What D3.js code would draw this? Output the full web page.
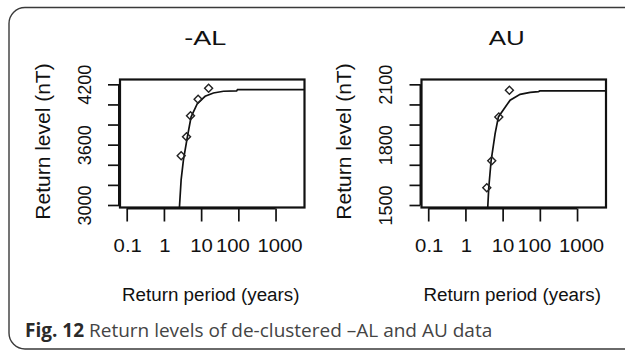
<!DOCTYPE html>
<html>
<head>
<meta charset="utf-8">
<script src="https://cdn.jsdelivr.net/npm/d3@7"></script>
<style>
  html, body { margin: 0; padding: 0; background: #fff; }
  svg { display: block; }
</style>
</head>
<body>
<svg id="chart" width="625" height="352"></svg>
<script>
// ---------- data ----------
const panelTitles = ["-AL", "AU"];
const periodTicks = [0.1, 1, 10, 100, 1000];
const periodTickLabels = ["0.1", "1", "10", "100", "1000"];

const alLevelTicks = [3000, 3200, 3400, 3600, 3800, 4000, 4200];
const alLevelTickLabels = ["3000", "3600", "4200"];
const auLevelTicks = [1500, 1600, 1700, 1800, 1900, 2000, 2100];
const auLevelTickLabels = ["1500", "1800", "2100"];

// fitted return-level curve
const alCurvePeriod = [2.61, 2.9, 3.34, 4.28, 5.38, 7.94, 12.8, 21.4, 39.8, 90, 95, 6000];
const alCurveLevel  = [2975, 3249, 3447, 3679, 3877, 4010, 4081, 4114, 4131, 4134, 4148, 4148];
const auCurvePeriod = [3.98, 4.24, 4.9, 6.28, 7.7, 10.5, 15.9, 29.5, 55, 92, 100, 6000];
const auCurveLevel  = [1488, 1586, 1720, 1855, 1938, 1974, 2021, 2050, 2060, 2064, 2067, 2067];

// empirical return levels
const alObsPeriod = [2.91, 4.05, 5.18, 8.3, 15.9];
const alObsLevel  = [3490, 3679, 3888, 4051, 4160];
const auObsPeriod = [3.75, 5.1, 7.9, 15.2];
const auObsLevel  = [1586, 1720, 1938, 2070];

const xLabel = "Return period (years)";
const yLabel = "Return level (nT)";
const captionBold = "Fig. 12";
const captionText = " Return levels of de-clustered \u2013AL and AU data";

// ---------- drawing ----------
const svg = d3.select("#chart");
const FONT = "'Liberation Sans', Arial, Helvetica, sans-serif";
const xLabelShift = [0.5, 0.5, 0, -6, 4];   // layout nudges of tick labels

// rounded figure frame
svg.append("rect")
  .attr("x", 9).attr("y", 7.5).attr("width", 720).attr("height", 341.5)
  .attr("rx", 16).attr("ry", 16)
  .attr("fill", "none").attr("stroke", "#3a3a3a").attr("stroke-width", 1.4);

const panels = [
  { title: panelTitles[0], left: 120, yTicks: alLevelTicks, yLabels: alLevelTickLabels,
    yDomain: [2975, 4248], cP: alCurvePeriod, cL: alCurveLevel, oP: alObsPeriod, oL: alObsLevel,
    titleW: 42 },
  { title: panelTitles[1], left: 421.5, yTicks: auLevelTicks, yLabels: auLevelTickLabels,
    yDomain: [1487.6, 2124], cP: auCurvePeriod, cL: auCurveLevel, oP: auObsPeriod, oL: auObsLevel,
    titleW: 36 }
];

const PW = 184.5, PTOP = 79.5, PBOT = 207.5;

panels.forEach((p, i) => {
  const g = svg.append("g");
  const x = d3.scaleLog().domain([0.066, 6000]).range([p.left, p.left + PW]);
  const y = d3.scaleLinear().domain(p.yDomain).range([PBOT, PTOP]);

  const clipId = "clip" + i;
  g.append("clipPath").attr("id", clipId)
    .append("rect").attr("x", p.left).attr("y", PTOP).attr("width", PW).attr("height", PBOT - PTOP);

  // curve
  const curve = p.cP.map((d, k) => [d, p.cL[k]]);
  g.append("path")
    .attr("clip-path", `url(#${clipId})`)
    .attr("d", d3.line().x(d => x(d[0])).y(d => y(d[1]))(curve))
    .attr("fill", "none").attr("stroke", "#111").attr("stroke-width", 1.7);

  // observed points (diamonds)
  const obs = p.oP.map((d, k) => [d, p.oL[k]]);
  g.selectAll("path.pt").data(obs).enter().append("path")
    .attr("class", "pt")
    .attr("d", d3.symbol().type(d3.symbolSquare).size(32))
    .attr("transform", d => `translate(${x(d[0])},${y(d[1])}) rotate(45)`)
    .attr("fill", "none").attr("stroke", "#222").attr("stroke-width", 1.4);

  // frame
  g.append("rect").attr("x", p.left).attr("y", PTOP).attr("width", PW).attr("height", PBOT - PTOP)
    .attr("fill", "none").attr("stroke", "#111").attr("stroke-width", 2.2);

  // x axis
  const xa = g.append("g").attr("transform", `translate(0,${PBOT + 1})`)
    .call(d3.axisBottom(x).tickValues(periodTicks).tickSize(13).tickSizeOuter(0)
      .tickFormat((d, k) => periodTickLabels[k]));
  xa.select(".domain").attr("stroke", "#111").attr("stroke-width", 2)
    .attr("d", `M${x(periodTicks[0])},0H${x(periodTicks[periodTicks.length - 1])}`);
  xa.selectAll(".tick line").attr("stroke", "#111").attr("stroke-width", 1.7);
  xa.selectAll(".tick text").attr("font-family", FONT).attr("font-size", 19)
    .attr("fill", "#111").attr("dy", 0).attr("y", 0)
    .attr("transform", (d, k) => `translate(${xLabelShift[k]},43) scale(1.07,1)`);

  // y axis
  const ya = g.append("g").attr("transform", `translate(${p.left - 1},0)`)
    .call(d3.axisLeft(y).tickValues(p.yTicks).tickSize(11).tickSizeOuter(0)
      .tickFormat(d => p.yLabels.includes(String(d)) ? String(d) : ""));
  ya.select(".domain").attr("stroke", "#111").attr("stroke-width", 2)
    .attr("d", `M0,${y(p.yTicks[0])}V${y(p.yTicks[p.yTicks.length - 1])}`);
  ya.selectAll(".tick line").attr("stroke", "#111").attr("stroke-width", 1.7);
  ya.selectAll(".tick text")
    .attr("font-family", FONT).attr("font-size", 18).attr("fill", "#111")
    .attr("x", 0).attr("dy", 0)
    .attr("text-anchor", "middle")
    .attr("transform", "translate(-28.5,0) rotate(-90)");

  // title
  g.append("text")
    .attr("x", p.left + PW / 2 - 7).attr("y", 45)
    .attr("text-anchor", "middle")
    .attr("font-family", FONT).attr("font-size", 21).attr("fill", "#111")
    .attr("textLength", p.titleW).attr("lengthAdjust", "spacingAndGlyphs")
    .text(p.title);

  // x label
  g.append("text")
    .attr("x", p.left + PW / 2 - 1.5).attr("y", 300.5)
    .attr("text-anchor", "middle")
    .attr("font-family", FONT).attr("font-size", 18.8).attr("fill", "#111")
    .text(xLabel);

  // y label
  g.append("text")
    .attr("transform", `translate(${p.left - 70.5},141.5) rotate(-90)`)
    .attr("text-anchor", "middle")
    .attr("font-family", FONT).attr("font-size", 21).attr("fill", "#111")
    .text(yLabel);
});

// caption
const cap = svg.append("text")
  .attr("x", 25).attr("y", 336.5)
  .attr("font-family", "'Open Sans', 'Noto Sans', sans-serif")
  .attr("font-size", 19);
cap.append("tspan").attr("font-weight", "bold").attr("fill", "#2a2a2a").text(captionBold);
cap.append("tspan").attr("fill", "#444").text(captionText);
</script>
</body>
</html>
